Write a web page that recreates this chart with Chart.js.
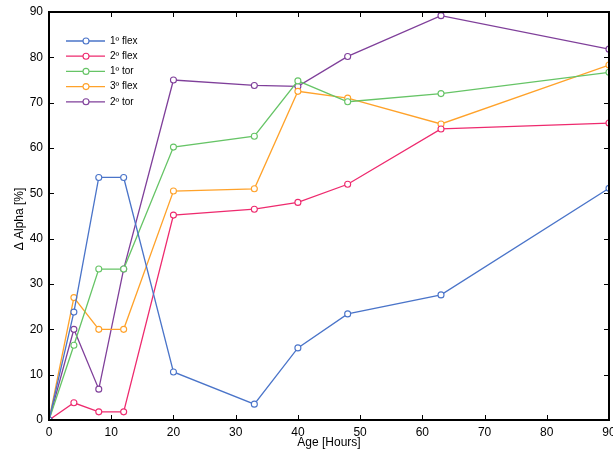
<!DOCTYPE html>
<html>
<head>
<meta charset="utf-8">
<script src="https://cdn.jsdelivr.net/npm/chart.js@4/dist/chart.umd.min.js"></script>
<style>
  html, body { margin: 0; padding: 0; background: #fff; }
  #wrap { width: 613px; height: 456px; position: relative; }
</style>
</head>
<body>
<div id="wrap"><canvas id="c"></canvas></div>
<script>
// Age in hours (x) and Δ Alpha [%] per mode
var AGE = [0, 4, 8, 12, 20, 33, 40, 48, 63, 90];
var FLEX1 = [0, 23.8, 53.5, 53.5, 10.6, 3.5, 15.9, 23.4, 27.6, 51.1];
var FLEX2 = [0, 3.8, 1.8, 1.8, 45.2, 46.5, 48.0, 52.0, 64.2, 65.5];
var TOR1 = [0, 16.5, 33.3, 33.3, 60.2, 62.6, 74.8, 70.2, 72.0, 76.7];
var FLEX3 = [0, 27.0, 20.0, 20.0, 50.5, 51.0, 72.5, 71.0, 65.3, 78.3];
var TOR2 = [0, 20.0, 6.8, 33.3, 75.0, 73.8, 73.6, 80.2, 89.2, 81.8];
var LABELS = ["1º flex", "2º flex", "1º tor", "3º flex", "2º tor"];
var X_TICKS = [0, 10, 20, 30, 40, 50, 60, 70, 80, 90];
var Y_TICKS = [0, 10, 20, 30, 40, 50, 60, 70, 80, 90];

var COLORS = ["#4a74c9", "#ee2a6e", "#66c466", "#ffa22a", "#7f3f9a"];
var FONT = "Liberation Sans, Arial, Helvetica, sans-serif";

function pts(ys) {
  return AGE.map(function (x, i) { return { x: x, y: ys[i] }; });
}

var SERIES = [FLEX1, FLEX2, TOR1, FLEX3, TOR2];
var datasets = SERIES.map(function (ys, i) {
  return {
    label: LABELS[i], data: pts(ys),
    borderColor: COLORS[i], backgroundColor: "#fff",
    borderWidth: 1.3, pointRadius: 3, pointBorderWidth: 1.1,
    pointBackgroundColor: "#fff", pointBorderColor: COLORS[i],
    tension: 0, fill: false
  };
});

/* frame, inward ticks, axis titles and legend */
var decor = {
  id: "decor",
  afterDraw: function (chart) {
    var ctx = chart.ctx, a = chart.chartArea;
    var xs = chart.scales.x, ys = chart.scales.y;
    ctx.save();
    ctx.strokeStyle = "#000";
    ctx.lineWidth = 1;
    X_TICKS.forEach(function (v) {
      var px = Math.round(xs.getPixelForValue(v)) + 0.5;
      ctx.beginPath();
      ctx.moveTo(px, a.bottom); ctx.lineTo(px, a.bottom - 5);
      ctx.moveTo(px, a.top); ctx.lineTo(px, a.top + 5);
      ctx.stroke();
    });
    Y_TICKS.forEach(function (v) {
      var py = Math.round(ys.getPixelForValue(v)) + 0.5;
      ctx.beginPath();
      ctx.moveTo(a.left, py); ctx.lineTo(a.left + 5, py);
      ctx.moveTo(a.right, py); ctx.lineTo(a.right - 5, py);
      ctx.stroke();
    });
    ctx.lineWidth = 2;
    ctx.strokeRect(a.left, a.top, a.right - a.left, a.bottom - a.top);

    // axis titles
    ctx.fillStyle = "#000";
    ctx.font = "12px " + FONT;
    ctx.textAlign = "center";
    ctx.textBaseline = "middle";
    ctx.fillText("Age [Hours]", (a.left + a.right) / 2, 443);
    ctx.translate(20, 219);
    ctx.rotate(-Math.PI / 2);
    ctx.fillText("\u0394 Alpha [%]", 0, 0);
    ctx.setTransform(1, 0, 0, 1, 0, 0);

    // legend
    ctx.font = "10px " + FONT;
    ctx.textAlign = "left";
    chart.data.datasets.forEach(function (d, i) {
      var y = 41 + i * 15.2;
      ctx.strokeStyle = d.borderColor;
      ctx.lineWidth = 1.3;
      ctx.beginPath();
      ctx.moveTo(66, y); ctx.lineTo(105, y);
      ctx.stroke();
      ctx.fillStyle = "#fff";
      ctx.lineWidth = 1.1;
      ctx.beginPath();
      ctx.arc(86, y, 3, 0, Math.PI * 2);
      ctx.fill(); ctx.stroke();
      ctx.fillStyle = "#000";
      ctx.fillText(d.label, 110, y);
    });
    ctx.restore();
  }
};

new Chart(document.getElementById("c"), {
  type: "line",
  data: { datasets: datasets },
  options: {
    responsive: true, maintainAspectRatio: false, animation: false,
    layout: { autoPadding: false, padding: { left: 0, top: 12, right: 4, bottom: 0 } },
    plugins: { legend: { display: false }, tooltip: { enabled: false } },
    scales: {
      x: {
        type: "linear", min: 0, max: 90,
        afterFit: function (s) { s.height = 36; s.paddingLeft = 0; s.paddingRight = 0; },
        afterBuildTicks: function (s) { s.ticks = X_TICKS.map(function (v) { return { value: v }; }); },
        grid: { display: false, drawTicks: false },
        border: { display: false },
        ticks: { color: "#000", padding: 5, maxRotation: 0, autoSkip: false, font: { family: FONT, size: 12 } }
      },
      y: {
        min: 0, max: 90,
        afterFit: function (s) { s.width = 49; s.paddingTop = 0; s.paddingBottom = 0; },
        afterBuildTicks: function (s) { s.ticks = Y_TICKS.map(function (v) { return { value: v }; }); },
        grid: { display: false, drawTicks: false },
        border: { display: false },
        ticks: { color: "#000", padding: 6, autoSkip: false, font: { family: FONT, size: 12 } }
      }
    }
  },
  plugins: [decor]
});
</script>
</body>
</html>
